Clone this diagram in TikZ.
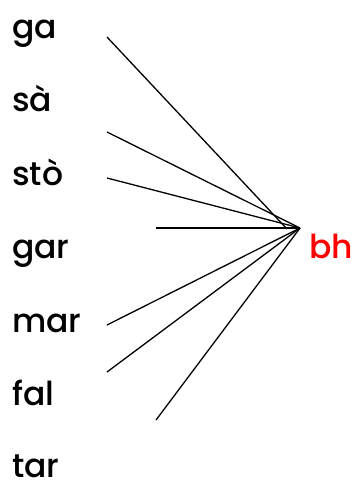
\documentclass[tikz,border=0pt]{standalone}
\usepackage{fontspec}
\setmainfont{Poppins}[UprightFont=* Medium]
\usetikzlibrary{positioning}

\begin{document}
\begin{tikzpicture}[x=1pt, y=-1pt,
  w/.style={anchor=base west, inner sep=0pt, font=\fontsize{33}{40}\selectfont},
  l/.style={line width=1.3pt}]
  \useasboundingbox (0,0) rectangle (361,488);

  \node[w] (ga)  at (12,38)  {ga};
  \node[w] (sa)  at (12,111) {sà};
  \node[w] (sto) at (12,185) {stò};
  \node[w] (gar) at (12,258) {gar};
  \node[w] (mar) at (12,332) {mar};
  \node[w] (fal) at (12,405) {fal};
  \node[w] (tar) at (12,477) {tar};
  \node[w, text=red] (bh) at (309,258) {bh};

  \coordinate (hub) at (300,228);
  \coordinate (ga0)  at (107,37);
  \coordinate (ga1)  at (287,229);
  \coordinate (sa0)  at (107,132);
  \coordinate (sto0) at (107,178);
  \coordinate (gar0) at (156,228);
  \coordinate (mar0) at (107,325);
  \coordinate (fal0) at (107,372);
  \coordinate (tar0) at (156,420);

  \draw[l] (ga0) -- (ga1);
  \draw[l] (sa0) -- (hub);
  \draw[l] (sto0) -- (hub);
  \draw[l] (gar0) -- (hub);
  \draw[l] (mar0) -- (hub);
  \draw[l] (fal0) -- (hub);
  \draw[l] (tar0) -- (hub);
\end{tikzpicture}
\end{document}
